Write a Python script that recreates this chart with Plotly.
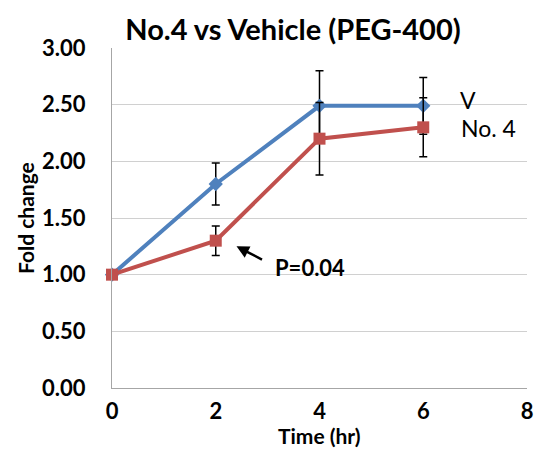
import plotly.graph_objects as go

time_hr = [0, 2, 4, 6]
vehicle = [1.00, 1.80, 2.49, 2.49]
vehicle_err = [0.0, 0.185, 0.31, 0.25]
no4 = [1.00, 1.30, 2.20, 2.30]
no4_err = [0.0, 0.13, 0.32, 0.26]
x_ticks = [0, 2, 4, 6, 8]
y_ticks = [0, 0.5, 1.0, 1.5, 2.0, 2.5, 3.0]

FONT = "Lato"
BLUE = "#4f81bd"
RED = "#c0504d"

fig = go.Figure()
fig.add_trace(go.Scatter(
    x=time_hr, y=vehicle, mode="lines+markers", name="V",
    line=dict(color=BLUE, width=4),
    marker=dict(symbol="diamond", size=11, color=BLUE),
    error_y=dict(type="data", array=vehicle_err, color="black", thickness=1.5, width=4),
    cliponaxis=False,
))
fig.add_trace(go.Scatter(
    x=time_hr, y=no4, mode="lines+markers", name="No. 4",
    line=dict(color=RED, width=4),
    marker=dict(symbol="square", size=12, color=RED),
    error_y=dict(type="data", array=no4_err, color="black", thickness=1.5, width=4),
    cliponaxis=False,
))

fig.update_layout(
    width=534, height=442,
    margin=dict(l=104, r=9, t=40, b=62),
    paper_bgcolor="white", plot_bgcolor="white",
    showlegend=False,
    font=dict(family=FONT, color="black"),
    title=dict(text="<b>No.4 vs Vehicle (PEG-400)</b>", x=285 / 534, xanchor="center",
               y=1 - 22 / 442, yanchor="middle", font=dict(size=29, family=FONT)),
    xaxis=dict(range=[0, 8], tickvals=x_ticks, showgrid=False,
               showline=True, linecolor="#a6a6a6", linewidth=1,
               tickfont=dict(size=22, family=FONT, weight="bold"), ticks="",
               ticklabelstandoff=4, zeroline=False),
    yaxis=dict(range=[0, 3], tickvals=y_ticks, tickformat=".2f",
               showgrid=True, gridcolor="#d0d0d0", gridwidth=1,
               showline=True, linecolor="#a6a6a6", linewidth=1,
               tickfont=dict(size=22, family=FONT, weight="bold"), ticks="",
               ticklabelstandoff=21, zeroline=False),
)

# axis titles
fig.add_annotation(x=0.5, y=0, xref="paper", yref="paper", yshift=-47,
                   text="<b>Time (hr)</b>", showarrow=False, xanchor="center", yanchor="middle",
                   font=dict(size=21, family=FONT))
fig.add_annotation(x=0, y=0.5, xref="paper", yref="paper", xshift=-87, textangle=-90,
                   text="<b>Fold change</b>", showarrow=False, xanchor="center", yanchor="middle",
                   font=dict(size=21, family=FONT))

# legend-like labels
fig.add_annotation(x=(473 - 112) / 421, y=(388 - 100) / 340, xref="paper", yref="paper",
                   text="V", showarrow=False, xanchor="center", yanchor="middle",
                   font=dict(size=23, family=FONT))
fig.add_annotation(x=(464 - 112) / 421, y=(388 - 128) / 340, xref="paper", yref="paper",
                   text="No. 4", showarrow=False, xanchor="left", yanchor="middle",
                   font=dict(size=23, family=FONT))
# P-value label with arrow
fig.add_annotation(x=2.40, y=1.25, xref="x", yref="y", ax=27, ay=14,
                   text="", showarrow=True, arrowhead=2, arrowsize=1, arrowwidth=2.5,
                   arrowcolor="black")
fig.add_annotation(x=3.10, y=1.06, xref="x", yref="y", text="<b>P=0.04</b>",
                   showarrow=False, xanchor="left", yanchor="middle",
                   font=dict(size=22, family=FONT))

fig.write_html("out.html")
